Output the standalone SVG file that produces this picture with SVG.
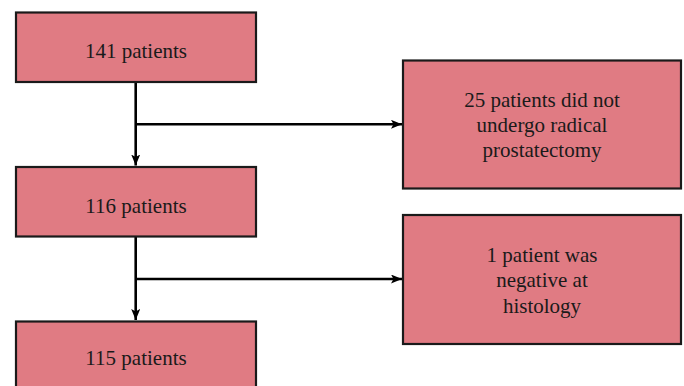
<svg xmlns="http://www.w3.org/2000/svg" width="684" height="386" viewBox="0 0 684 386">
<defs>
<style>
.box{fill:#E07B83;stroke:#1a1a1a;stroke-width:2.2}
.t{font-family:"Liberation Serif","Times New Roman",serif;font-size:21px;fill:#1a1a1a;text-anchor:middle}
.c{stroke:#000;stroke-width:2.6;fill:none}
</style>
<marker id="ah" markerWidth="11" markerHeight="9" refX="11" refY="4.5" orient="auto" markerUnits="userSpaceOnUse">
<path d="M0,0 L11,4.5 L0,9 L2.5,4.5 Z" fill="#000"/>
</marker>
</defs>
<g id="connectors">
<path class="c" d="M135.7,82 L135.7,165.5" marker-end="url(#ah)"/>
<path class="c" d="M135.7,124.3 L402,124.3" marker-end="url(#ah)"/>
<path class="c" d="M135.7,237 L135.7,320" marker-end="url(#ah)"/>
<path class="c" d="M135.7,279 L402,279" marker-end="url(#ah)"/>
</g>
<g id="n141">
<rect class="box" x="16" y="12.5" width="240" height="69.5"/>
<text class="t" x="136" y="58">141 patients</text>
</g>
<g id="n116">
<rect class="box" x="16" y="167" width="240" height="69.5"/>
<text class="t" x="136" y="212.5">116 patients</text>
</g>
<g id="n115">
<rect class="box" x="16" y="321.5" width="240" height="80"/>
<text class="t" x="136" y="365">115 patients</text>
</g>
<g id="nExcl1">
<rect class="box" x="403" y="60.5" width="278" height="128"/>
<text class="t" x="542" y="106.7">25 patients did not</text>
<text class="t" x="542" y="131.7">undergo radical</text>
<text class="t" x="542" y="157">prostatectomy</text>
</g>
<g id="nExcl2">
<rect class="box" x="403" y="215" width="278" height="129"/>
<text class="t" x="542" y="262.3">1 patient was</text>
<text class="t" x="542" y="287.3">negative at</text>
<text class="t" x="542" y="312.7">histology</text>
</g>
</svg>
